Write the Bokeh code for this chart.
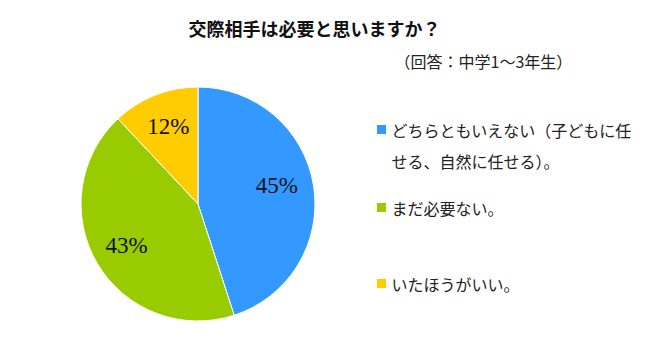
import math
from bokeh.plotting import figure
from bokeh.models import Range1d, ColumnDataSource
from bokeh.core.properties import value
from bokeh.embed import file_html
from bokeh.resources import INLINE

title = "交際相手は必要と思いますか？"
subtitle = "（回答：中学1～3年生）"
categories = ["どちらともいえない（子どもに任\nせる、自然に任せる）。", "まだ必要ない。", "いたほうがいい。"]
shares = [45, 43, 12]
colors = ["#3399FF", "#99CC00", "#FFCC00"]

W, H = 634, 343
p = figure(width=W, height=H, output_backend="svg", toolbar_location=None,
           x_range=Range1d(0, W), y_range=Range1d(359 - H, 359),
           min_border=0)
p.axis.visible = False
p.grid.visible = False
p.outline_line_color = None
p.background_fill_color = "white"

cx, cy, R = 197.5, 359 - 203.5, 117
label_nudge = [(-1, 6), (-2, 0), (0, 2)]  # pixel nudges for label placement
total = sum(shares)
starts, ends, lx, ly, labels = [], [], [], [], []
a = math.pi / 2
for s, (nx, ny) in zip(shares, label_nudge):
    span = 2 * math.pi * s / total
    starts.append(a)
    ends.append(a - span)
    mid = a - span / 2
    lx.append(cx + 0.69 * R * math.cos(mid) + nx)
    ly.append(cy + 0.69 * R * math.sin(mid) + ny)
    labels.append(f"{s}%")
    a -= span

src = ColumnDataSource(dict(start=starts, end=ends, color=colors, lx=lx, ly=ly, label=labels))
p.wedge(x=cx, y=cy, radius=R, radius_units="screen", start_angle="start", end_angle="end",
        direction="clock", fill_color="color", line_color="white", line_width=1, source=src)
p.text(x="lx", y="ly", text="label", source=src, text_font=value("Liberation Serif"),
       text_font_size="23px", text_align="center", text_baseline="middle", text_color="#111122")

# title
p.text(x=[314], y=[359 - 27], text=[title], text_font=value("Noto Sans CJK JP"),
       text_font_style="bold", text_font_size="18px", text_align="center",
       text_baseline="middle", text_color="#111111")
p.text(x=[394], y=[359 - 60], text=[subtitle], text_font=value("Noto Sans CJK JP"),
       text_font_size="16px", text_align="left", text_baseline="middle", text_color="#222222")

# legend
leg_y = [129, 207, 283]
for lab, col, yy in zip(categories, colors, leg_y):
    p.rect(x=[381], y=[359 - yy], width=9, height=9, width_units="screen", height_units="screen",
           fill_color=col, line_color=None)
    lines = lab.split("\n")
    for i, ln in enumerate(lines):
        p.text(x=[391], y=[359 - yy - 31 * i], text=[ln], text_font=value("Noto Sans CJK JP"),
               text_font_size="16px", text_align="left", text_baseline="middle", text_color="#222222")

open("out.html", "w").write(file_html(p, INLINE))
